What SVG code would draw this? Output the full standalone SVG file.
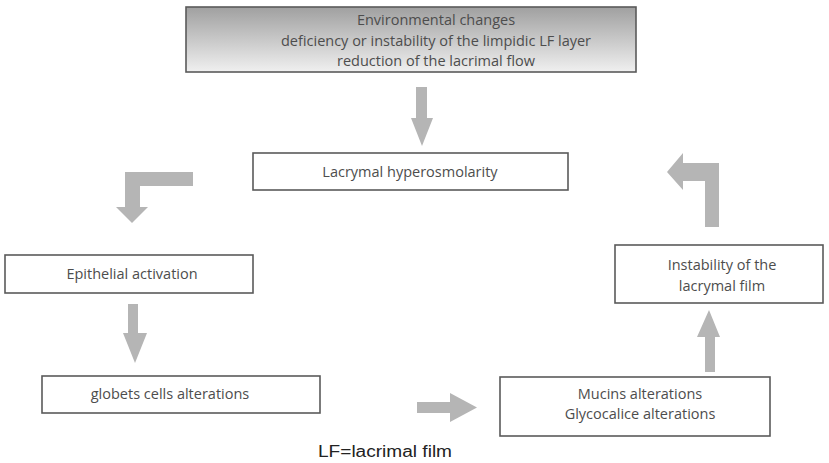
<svg xmlns="http://www.w3.org/2000/svg" width="829" height="463" viewBox="0 0 829 463">
<defs>
<linearGradient id="g" x1="0" y1="0" x2="0" y2="1">
<stop offset="0" stop-color="#a0a0a0"/>
<stop offset="1" stop-color="#f0f0f0"/>
</linearGradient>
<style>
.box{fill:#fff;stroke:#5a5a5a;stroke-width:1.6}
.t{font-family:"Open Sans","Liberation Sans",sans-serif;font-size:14.5px;fill:#4d4d4d;text-anchor:middle}
.arr{fill:#b5b5b5}
</style>
</defs>
<rect width="829" height="463" fill="#fff"/>
<g id="env">
<rect x="186" y="7" width="450" height="65" fill="url(#g)" stroke="#5a5a5a" stroke-width="1.6"/>
<text class="t" x="436" y="25">Environmental changes</text>
<text class="t" x="436" y="46">deficiency or instability of the limpidic LF layer</text>
<text class="t" x="436" y="66">reduction of the lacrimal flow</text>
</g>
<g id="hyper">
<rect class="box" x="253" y="153" width="315" height="37"/>
<text class="t" x="410" y="177">Lacrymal hyperosmolarity</text>
</g>
<g id="epi">
<rect class="box" x="5" y="255" width="248" height="38"/>
<text class="t" x="132" y="279">Epithelial activation</text>
</g>
<g id="globets">
<rect class="box" x="42" y="376" width="278" height="37"/>
<text class="t" x="170" y="399">globets cells alterations</text>
</g>
<g id="mucins">
<rect class="box" x="500" y="377" width="270" height="59"/>
<text class="t" x="640" y="399">Mucins alterations</text>
<text class="t" x="640" y="419">Glycocalice alterations</text>
</g>
<g id="instab">
<rect class="box" x="615" y="245" width="208" height="58"/>
<text class="t" x="722" y="270">Instability of the</text>
<text class="t" x="722" y="291">lacrymal film</text>
</g>
<g id="connectors">
<polygon class="arr" points="416,87 427,87 427,118 433,118 422,146 411,118 416,118"/>
<polygon class="arr" points="193,172 193,186 140,186 140,207 148,207 132,223 116,207 125,207 125,172"/>
<polygon class="arr" points="128,304 138,304 138,333 147,333 135,363 123,333 128,333"/>
<polygon class="arr" points="417,402 450,402 450,393 477,407.5 450,422 450,413 417,413"/>
<polygon class="arr" points="705,372 715,372 715,337 720,337 709,310 697,337 705,337"/>
<polygon class="arr" points="705,227 719,227 719,163 683,163 683,153 667,172 683,190 683,181 705,181"/>
</g>
<text x="385" y="457" font-family="Liberation Sans, sans-serif" font-size="16" fill="#222" text-anchor="middle" textLength="134" lengthAdjust="spacingAndGlyphs">LF=lacrimal film</text>
</svg>
